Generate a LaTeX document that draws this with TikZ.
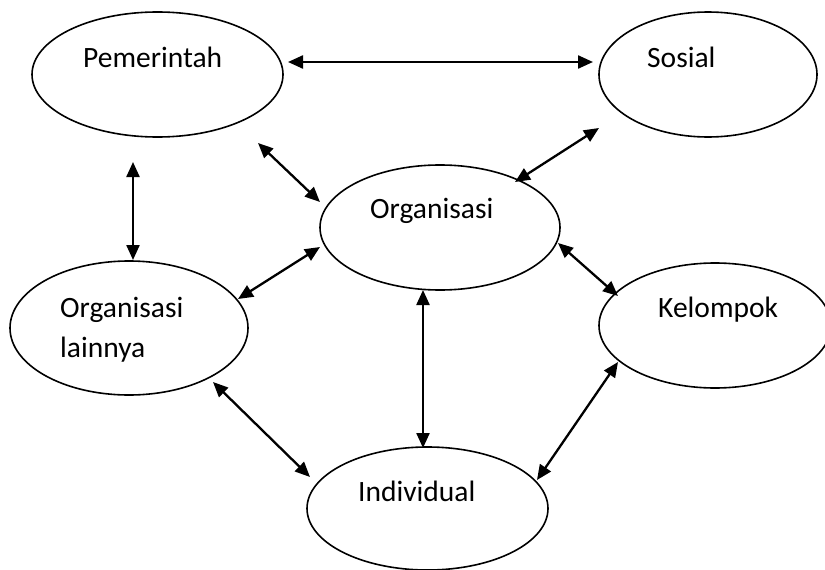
\documentclass[tikz,border=0pt]{standalone}
\usepackage{fontspec}
\setmainfont{Carlito}
\usetikzlibrary{shapes.geometric,arrows.meta}
\begin{document}
\begin{tikzpicture}[x=1pt,y=-1pt,
  oval/.style={draw,ellipse,line width=1.6pt,inner sep=0pt,outer sep=0pt},
  lbl/.style={anchor=base west,inner sep=0pt,font=\fontsize{29.5}{40}\selectfont},
  link/.style={line width=2.3pt,{Triangle[length=15pt,width=13pt]}-{Triangle[length=15pt,width=13pt]}}]
\useasboundingbox (0,0) rectangle (825,570);
% ellipses
\node[oval,minimum width=251pt,minimum height=125pt] (pem) at (157.5,74.5) {};
\node[oval,minimum width=218pt,minimum height=125pt] (sos) at (708,74.5) {};
\node[oval,minimum width=240pt,minimum height=125pt] (org) at (440,227.5) {};
\node[oval,minimum width=238pt,minimum height=134pt] (orgl) at (129,328) {};
\node[oval,minimum width=232pt,minimum height=125pt] (kel) at (715,325.5) {};
\node[oval,minimum width=241pt,minimum height=123pt] (ind) at (427.5,508.5) {};
% texts
\node[lbl] (tpem) at (83,67) {Pemerintah};
\node[lbl] (tsos) at (647,67) {Sosial};
\node[lbl] (torg) at (370,218) {Organisasi};
\node[lbl] (torgl1) at (60,317) {Organisasi};
\node[lbl] (torgl2) at (60,357) {lainnya};
\node[lbl] (tkel) at (658,317) {Kelompok};
\node[lbl] (tind) at (358,501) {Individual};
% connector ends
\coordinate (pemE) at (288,62);
\coordinate (sosW) at (593,62);
\coordinate (pemSE) at (258,143);
\coordinate (orgNW) at (320,202);
\coordinate (sosSW) at (599,128);
\coordinate (orgNE) at (515,182);
\coordinate (pemS) at (133,162);
\coordinate (orglN) at (133,260);
\coordinate (orglNE) at (238,299);
\coordinate (orgW) at (320,247);
\coordinate (orgE) at (558,243);
\coordinate (kelNW) at (618,296);
\coordinate (orgS) at (423,290);
\coordinate (indN) at (423,448);
\coordinate (orglSE) at (213,382);
\coordinate (indNW) at (310,477);
\coordinate (kelSW) at (618,362);
\coordinate (indNE) at (537,480);
% connectors
\draw[link] (pemE) -- (sosW);
\draw[link] (pemSE) -- (orgNW);
\draw[link] (sosSW) -- (orgNE);
\draw[link] (pemS) -- (orglN);
\draw[link] (orglNE) -- (orgW);
\draw[link] (orgE) -- (kelNW);
\draw[link] (orgS) -- (indN);
\draw[link] (orglSE) -- (indNW);
\draw[link] (kelSW) -- (indNE);
\end{tikzpicture}
\end{document}
